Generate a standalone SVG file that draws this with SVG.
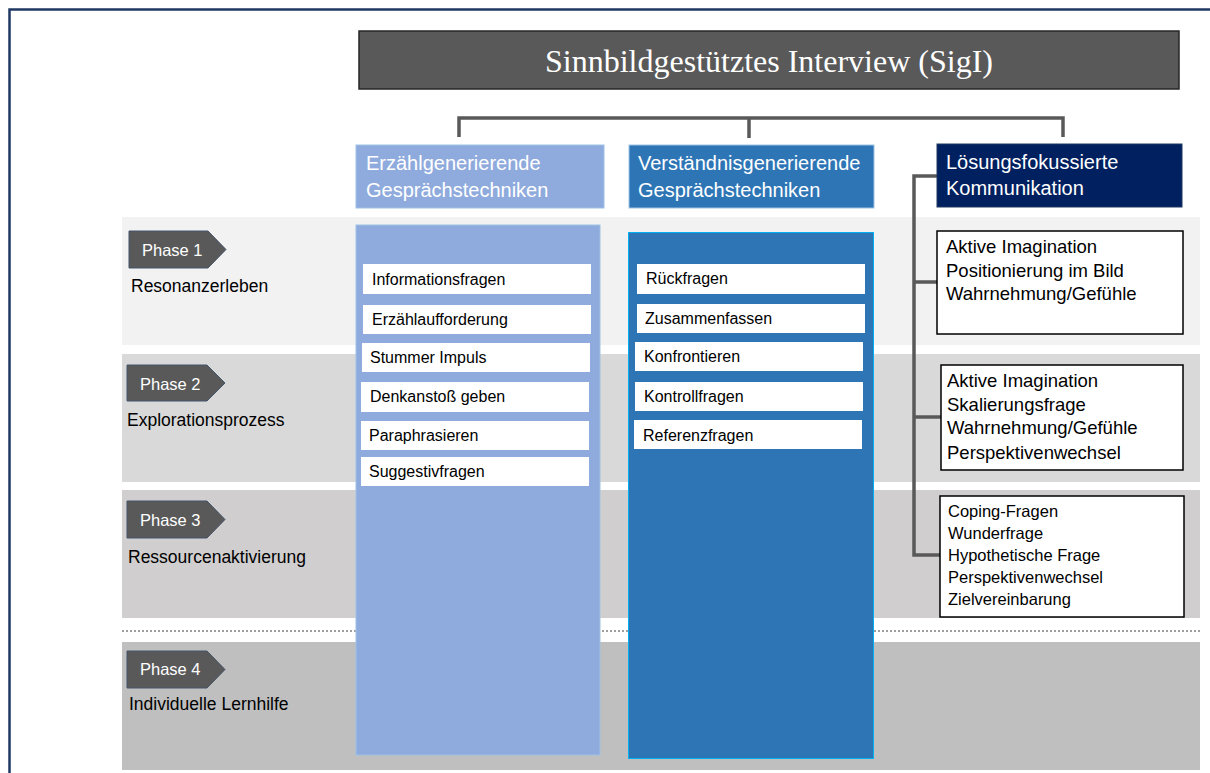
<svg xmlns="http://www.w3.org/2000/svg" width="1210" height="773" viewBox="0 0 1210 773">
<style>
.hdr{font-family:"Liberation Sans",Arial,sans-serif;font-size:20px;fill:#fff}
.item{font-family:"Liberation Sans",Arial,sans-serif;font-size:16px;fill:#000}
.irect{fill:#fff}
.ph{fill:#595959;stroke:#44546A;stroke-width:1}
.phtxt{font-family:"Liberation Sans",Arial,sans-serif;font-size:16.5px;fill:#fff}
.phlbl{font-family:"Liberation Sans",Arial,sans-serif;font-size:17.5px;fill:#000}
.rbox{fill:#fff;stroke:#000;stroke-width:1.5}
.rtxt{font-family:"Liberation Sans",Arial,sans-serif;font-size:18.5px;fill:#000}
.rtxt2{font-family:"Liberation Sans",Arial,sans-serif;font-size:16.5px;fill:#000}
.conn{fill:none;stroke:#595959;stroke-width:3.5}
</style>
<rect x="0" y="0" width="1210" height="773" fill="#fff"/>
<rect x="9.5" y="9.5" width="1210" height="780" fill="none" stroke="#1F3864" stroke-width="2.5"/>

<g id="bands">
<rect x="122" y="217" width="1078" height="128" fill="#F2F2F2"/>
<rect x="122" y="354" width="1078" height="128" fill="#D9D9D9"/>
<rect x="122" y="490" width="1078" height="128" fill="#D0CECE"/>
<line x1="122" y1="631" x2="1200" y2="631" stroke="#404040" stroke-width="1" stroke-dasharray="2,2"/>
<rect x="122" y="642" width="1078" height="128" fill="#BFBFBF"/>
</g>

<g id="title">
<rect x="359" y="31" width="820" height="58" fill="#595959" stroke="#262626" stroke-width="1.5"/>
<text x="769" y="72" text-anchor="middle" font-family="'Liberation Serif','Times New Roman',serif" font-size="32" fill="#fff">Sinnbildgestütztes Interview (SigI)</text>
</g>

<g id="connectors">
<path class="conn" d="M459 137 V118 H1063 V137 M749 118 V138"/>
<path class="conn" d="M937 176 H914 V555 H940 M914 282 H937 M914 417 H941"/>
</g>

<g id="header-erz">
<rect x="356" y="145" width="248" height="63" fill="#8FAADC" stroke="#9DC3E6" stroke-width="1"/>
<text class="hdr" x="366" y="170">Erzählgenerierende</text>
<text class="hdr" x="366" y="197">Gesprächstechniken</text>
</g>
<g id="header-ver">
<rect x="629" y="145" width="245" height="63" fill="#2E75B6" stroke="#9DC3E6" stroke-width="1"/>
<text class="hdr" x="638" y="170">Verständnisgenerierende</text>
<text class="hdr" x="638" y="197">Gesprächstechniken</text>
</g>
<g id="header-loe">
<rect x="937" y="144" width="245" height="63" fill="#002060" stroke="#1F3864" stroke-width="1"/>
<text class="hdr" x="946" y="169">Lösungsfokussierte</text>
<text class="hdr" x="946" y="195">Kommunikation</text>
</g>

<g id="phase1">
<path class="ph" d="M129 231 H208 L226 249.5 L208 268 H129 Z"/>
<text class="phtxt" x="142" y="256">Phase 1</text>
<text class="phlbl" x="131" y="292">Resonanzerleben</text>
</g>
<g id="phase2">
<path class="ph" d="M127 365 H207 L225 383 L207 401 H127 Z"/>
<text class="phtxt" x="140" y="390">Phase 2</text>
<text class="phlbl" x="127" y="426">Explorationsprozess</text>
</g>
<g id="phase3">
<path class="ph" d="M127 501 H207 L225 519.5 L207 538 H127 Z"/>
<text class="phtxt" x="140" y="526">Phase 3</text>
<text class="phlbl" x="128" y="563">Ressourcenaktivierung</text>
</g>
<g id="phase4">
<path class="ph" d="M127 651 H207 L225 669.5 L207 688 H127 Z"/>
<text class="phtxt" x="140" y="675">Phase 4</text>
<text class="phlbl" x="129" y="710">Individuelle Lernhilfe</text>
</g>

<g id="col-erz">
<rect x="356" y="225" width="244" height="530" fill="#8FAADC" stroke="#9DC3E6" stroke-width="1"/>
<rect class="irect" x="363" y="264" width="228" height="30"/>
<text class="item" x="372" y="285">Informationsfragen</text>
<rect class="irect" x="363" y="305" width="228" height="29"/>
<text class="item" x="372" y="325">Erzählaufforderung</text>
<rect class="irect" x="362" y="343" width="228" height="29"/>
<text class="item" x="370" y="363">Stummer Impuls</text>
<rect class="irect" x="361" y="382" width="228" height="30"/>
<text class="item" x="370" y="402">Denkanstoß geben</text>
<rect class="irect" x="361" y="421" width="228" height="29"/>
<text class="item" x="369" y="441">Paraphrasieren</text>
<rect class="irect" x="361" y="457" width="228" height="29"/>
<text class="item" x="369" y="477">Suggestivfragen</text>
</g>

<g id="col-ver">
<rect x="628.5" y="232.5" width="245" height="526" fill="#2E75B6" stroke="#00B0F0" stroke-width="1"/>
<rect class="irect" x="637" y="264" width="228" height="30"/>
<text class="item" x="646" y="284">Rückfragen</text>
<rect class="irect" x="637" y="304" width="228" height="29"/>
<text class="item" x="645" y="324">Zusammenfassen</text>
<rect class="irect" x="635" y="342" width="228" height="29"/>
<text class="item" x="644" y="362">Konfrontieren</text>
<rect class="irect" x="635" y="382" width="228" height="29"/>
<text class="item" x="644" y="402">Kontrollfragen</text>
<rect class="irect" x="634" y="420" width="228" height="29"/>
<text class="item" x="643" y="441">Referenzfragen</text>
</g>

<g id="box-loe1">
<rect class="rbox" x="937" y="231" width="246" height="103"/>
<text class="rtxt" x="946" y="253">Aktive Imagination</text>
<text class="rtxt" x="946" y="277">Positionierung im Bild</text>
<text class="rtxt" x="946" y="300">Wahrnehmung/Gefühle</text>
</g>
<g id="box-loe2">
<rect class="rbox" x="941" y="365" width="242" height="105"/>
<text class="rtxt" x="947" y="387">Aktive Imagination</text>
<text class="rtxt" x="947" y="411">Skalierungsfrage</text>
<text class="rtxt" x="947" y="434">Wahrnehmung/Gefühle</text>
<text class="rtxt" x="947" y="459">Perspektivenwechsel</text>
</g>
<g id="box-loe3">
<rect class="rbox" x="940" y="496" width="244" height="121"/>
<text class="rtxt2" x="948" y="517">Coping-Fragen</text>
<text class="rtxt2" x="948" y="539">Wunderfrage</text>
<text class="rtxt2" x="948" y="561">Hypothetische Frage</text>
<text class="rtxt2" x="948" y="583">Perspektivenwechsel</text>
<text class="rtxt2" x="948" y="605">Zielvereinbarung</text>
</g>
</svg>
